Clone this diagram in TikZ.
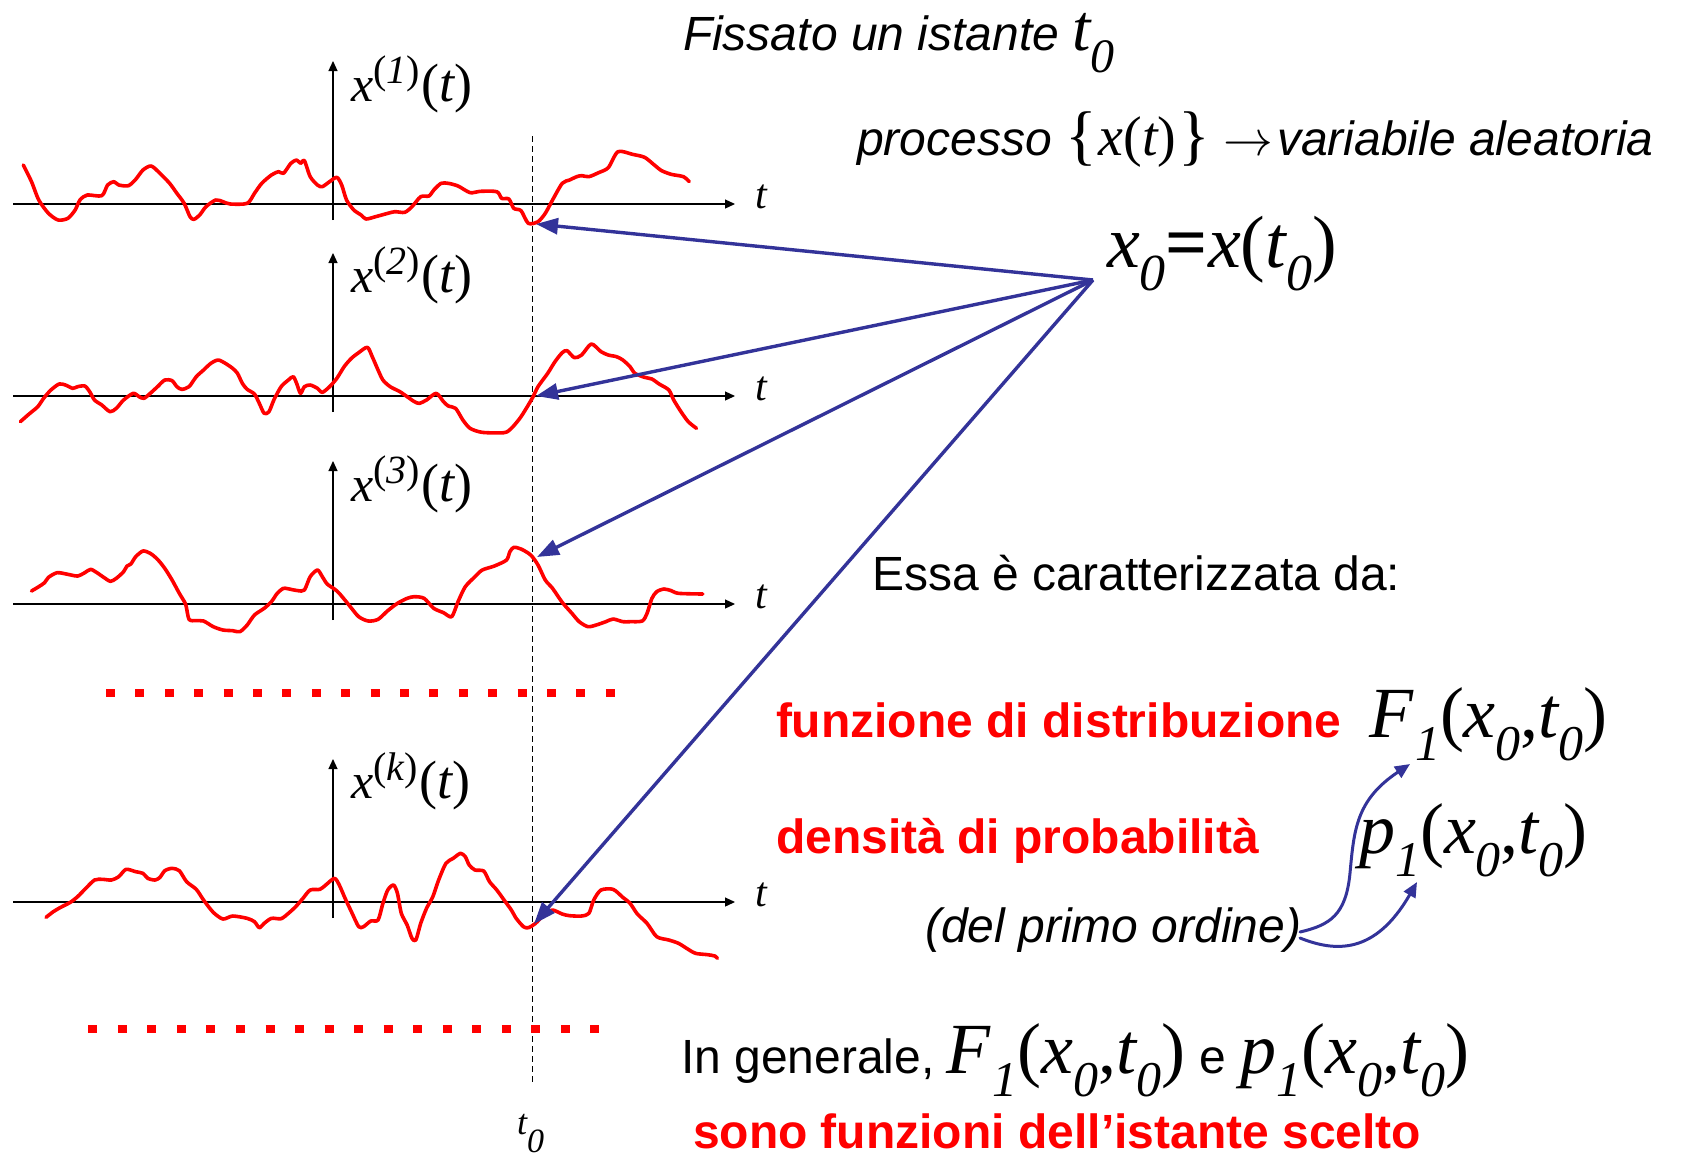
\documentclass[tikz,border=0pt]{standalone}
\usepackage{fontspec}
\setmainfont{Liberation Sans}
\newfontfamily\tms{Liberation Serif}
\usetikzlibrary{arrows.meta}
\definecolor{arrblue}{RGB}{51,51,153}
\definecolor{pured}{RGB}{255,0,0}
\newcommand\lowered[3]{{\fontsize{#1}{#1}\selectfont\raisebox{-#2}{#3}}}
\newcommand\raised[3]{{\fontsize{#1}{#1}\selectfont\raisebox{#2}{#3}}}
\newcommand\Fexpr{{\tms\fontsize{36pt}{36pt}\selectfont\itshape F\kern1pt\lowered{25pt}{11.5pt}{1}\upshape(\itshape x\lowered{25pt}{11.5pt}{0}\upshape,\itshape t\lowered{25pt}{11.5pt}{0}\upshape)}}
\newcommand\pexpr{{\tms\fontsize{36pt}{36pt}\selectfont\itshape p\lowered{25pt}{11.5pt}{1}\upshape(\itshape x\lowered{25pt}{11.5pt}{0}\upshape,\itshape t\lowered{25pt}{11.5pt}{0}\upshape)}}
\newcommand\xlab[1]{{\tms\fontsize{25pt}{25pt}\selectfont\itshape x\raised{20pt}{9pt}{\upshape(\itshape #1\upshape)}\kern1pt\fontsize{27pt}{27pt}\selectfont\upshape(\itshape t\upshape)}}
\tikzset{
  txt/.style={anchor=base west, inner sep=0pt, outer sep=0pt},
  sans/.style={font=\fontsize{24pt}{28pt}\selectfont},
  redbold/.style={text=pured, font=\fontsize{24pt}{28pt}\selectfont\bfseries},
  axisline/.style={line width=0.6pt, -{Triangle[length=5pt,width=4.5pt]}},
  tlab/.style={anchor=base west, inner sep=0pt, font=\tms\itshape\fontsize{21pt}{21pt}\selectfont},
  curve/.style={pured, line width=1.8pt, line join=round, line cap=round},
  bluearr/.style={draw=arrblue, line width=1.7pt, -{Triangle[length=11pt,width=8pt]}},
  smallarr/.style={draw=arrblue, line width=1.5pt, line cap=round, -{Triangle[length=7.5pt,width=6.5pt]}},
  reddots/.style={pured, line width=4pt},
}
\begin{document}
\begin{tikzpicture}[x=0.5pt,y=-0.5pt]
\useasboundingbox (0,0) rectangle (1689,1157);

% dashed t0 line
\coordinate (dtop) at (532,136);
\coordinate (dbot) at (532,1085);
\draw[line width=0.5pt, dash pattern=on 3pt off 2pt] (dtop) -- (dbot);

% axes
\foreach \n/\ay in {1/204, 2/396, 3/604, 4/902}{
  \draw[axisline] (13,\ay) -- (735,\ay);
  \draw[axisline] (333,\ay+16) -- (333,\ay-143);
  \node[tlab] (t\n) at (755,\ay+4) {t};
}
\node[txt] (lab1) at (351,101) {\xlab{1}};
\node[txt] (lab2) at (351,292) {\xlab{2}};
\node[txt] (lab3) at (351,501) {\xlab{3}};
\node[txt] (lab4) at (351,798) {\xlab{k}};

% curve 1
\begin{scope}[yshift=-20pt, x=0.242347pt, y=-0.166667pt]
\draw[curve] plot[smooth, tension=0.45] coordinates {(48,375) (65,425) (80,480) (100,520) (120,540) (140,535) (155,510) (165,480) (180,465) (210,467) (222,435) (235,425) (245,435) (265,437) (280,418) (295,390) (312,378) (330,400) (350,430) (365,460) (380,490) (392,530) (400,538) (412,525) (425,500) (445,480) (460,485) (475,492) (510,490) (525,460) (540,430) (560,405) (575,395) (585,400) (600,370) (612,360) (620,370) (628,362) (640,410) (655,435) (665,440) (680,425) (695,412) (705,435) (715,480) (730,510) (745,525) (755,537) (775,530) (800,520) (815,515) (835,517) (850,500) (868,470) (885,468) (895,450) (910,430) (925,430) (945,438) (970,458) (990,454) (1025,455) (1035,475) (1050,477) (1060,505) (1075,512) (1090,550) (1110,545) (1125,520) (1140,480) (1160,430) (1175,420) (1190,410) (1200,407) (1215,410) (1235,398) (1255,383) (1275,335) (1305,343) (1330,352) (1350,375) (1365,392) (1385,403) (1410,410) (1422,425)};
\end{scope}
% curve 2
\begin{scope}[yshift=-115pt, x=0.242347pt, y=-0.166667pt]
\draw[curve] plot[smooth, tension=0.45] coordinates {(42,575) (60,552) (78,530) (90,505) (105,480) (122,462) (135,465) (150,475) (160,470) (175,468) (185,485) (195,510) (210,525) (227,545) (240,535) (255,510) (275,490) (287,500) (297,505) (310,490) (325,470) (340,450) (355,452) (365,470) (375,478) (390,470) (405,440) (420,420) (435,400) (450,390) (465,400) (480,415) (490,430) (500,460) (510,478) (525,492) (535,520) (545,550) (555,545) (565,510) (580,470) (595,450) (605,440) (612,460) (620,490) (628,470) (640,465) (655,475) (665,487) (680,470) (695,445) (710,410) (725,385) (740,368) (758,352) (768,380) (780,420) (790,450) (805,470) (825,485) (840,500) (855,515) (865,520) (880,510) (900,490) (915,515) (925,528) (940,535) (955,570) (970,595) (995,607) (1040,608) (1055,595) (1075,560) (1098,505) (1110,470) (1130,430) (1145,395) (1160,368) (1170,362) (1185,383) (1200,375) (1220,342) (1240,365) (1255,375) (1272,380) (1285,390) (1300,410) (1310,430) (1330,442) (1345,447) (1360,462) (1380,480) (1390,510) (1405,545) (1420,575) (1437,595)};
\end{scope}
% curve 3
\begin{scope}[yshift=-220pt, x=0.242347pt, y=-0.166667pt]
\draw[curve] plot[smooth, tension=0.45] coordinates {(65,453) (80,440) (92,428) (100,412) (118,398) (140,403) (160,408) (175,398) (187,388) (200,398) (215,413) (228,424) (240,415) (255,395) (262,378) (270,372) (280,350) (295,333) (310,340) (325,358) (340,385) (355,420) (370,460) (383,493) (390,538) (405,542) (420,543) (440,560) (460,570) (480,572) (495,575) (510,555) (525,525) (545,505) (560,485) (572,460) (585,445) (600,448) (615,452) (628,450) (640,410) (655,390) (665,410) (675,432) (690,447) (700,460) (720,495) (740,530) (760,543) (780,538) (800,512) (820,490) (840,475) (855,470) (875,475) (895,505) (915,518) (932,530) (945,485) (960,440) (980,410) (995,390) (1020,378) (1045,360) (1052,335) (1060,322) (1075,327) (1095,345) (1110,375) (1125,420) (1140,445) (1160,487) (1180,520) (1195,545) (1213,560) (1230,555) (1250,545) (1265,537) (1285,545) (1300,545) (1325,543) (1335,520) (1345,475) (1355,455) (1370,447) (1385,452) (1400,460) (1450,462)};
\end{scope}
% curve k
\begin{scope}[yshift=-330pt, x=0.242347pt, y=-0.166667pt]
\draw[curve] plot[smooth, tension=0.45] coordinates {(95,772) (110,755) (125,742) (145,727) (160,710) (175,688) (195,660) (212,658) (230,660) (245,650) (260,628) (280,635) (295,640) (305,655) (320,660) (330,652) (340,632) (355,625) (370,632) (385,665) (405,688) (420,720) (440,757) (460,777) (480,768) (510,775) (525,785) (535,803) (545,790) (560,775) (580,776) (595,760) (610,740) (625,715) (640,690) (660,688) (672,675) (690,655) (700,675) (712,715) (725,755) (740,800) (750,800) (765,783) (780,780) (790,730) (800,690) (812,675) (820,700) (828,760) (840,795) (850,835) (858,840) (868,790) (880,745) (893,710) (905,660) (920,610) (935,595) (950,580) (960,590) (968,615) (980,630) (998,633) (1010,665) (1025,690) (1040,720) (1055,750) (1065,775) (1080,800) (1090,803) (1105,790) (1125,760) (1140,750) (1160,762) (1175,767) (1200,768) (1215,760) (1225,720) (1240,690) (1265,688) (1285,712) (1300,730) (1315,762) (1335,790) (1355,830) (1380,840) (1400,850) (1420,868) (1435,880) (1460,884) (1475,888) (1480,895)};
\end{scope}

% red dotted rows
\draw[reddots, dash pattern=on 4.5pt off 10.2pt] (106,692.5) -- (615,692.5);
\draw[reddots, dash pattern=on 4.5pt off 10.27pt] (88.3,1029) -- (600,1029);

% t0 label
\node[txt] (tzero) at (517,1134) {\tms\itshape\fontsize{18pt}{18pt}\selectfont t\lowered{17pt}{9pt}{0}};

% texts
\node[txt, font=\fontsize{24pt}{28pt}\selectfont\itshape] (fiss) at (683,50) {Fissato un istante \tms\fontsize{33pt}{33pt}\selectfont t\lowered{24pt}{11pt}{0}};
\node[txt, font=\fontsize{24pt}{28pt}\selectfont\itshape] (proc) at (857,155) {processo {\tms\upshape\fontsize{33pt}{33pt}\selectfont\raisebox{-1pt}{\{}\kern1pt\fontsize{28pt}{28pt}\selectfont\itshape x\upshape(\itshape t\upshape)\kern1pt\fontsize{33pt}{33pt}\selectfont\raisebox{-1pt}{\}}}\ {\fontsize{24pt}{24pt}\selectfont$\rightarrow$}\kern2pt variabile aleatoria};
\node[txt] (xz) at (1107,267) {\tms\fontsize{37pt}{37pt}\selectfont\itshape x\lowered{26pt}{11.5pt}{0}\upshape\bfseries=\mdseries\itshape x\upshape(\itshape t\lowered{26pt}{11.5pt}{0}\upshape)};
\node[txt, sans] (essa) at (872,590) {Essa è caratterizzata da:};
\node[txt, redbold] (funz) at (776,737) {funzione di distribuzione};
\node[txt] (Fone) at (1369,737) {\Fexpr};
\node[txt, redbold] (dens) at (776,853) {densità di probabilità};
\node[txt] (pone) at (1359,853) {\pexpr};
\node[txt, font=\fontsize{24pt}{28pt}\selectfont\itshape] (dpo) at (925,942) {(del primo ordine)};
\node[txt, sans] (gen) at (681,1073) {In generale,\kern6pt\Fexpr\kern7pt e\kern7pt\pexpr};
\node[txt, redbold] (sono) at (693,1148) {sono funzioni dell’istante scelto};

% blue arrows
\coordinate (src) at (1093,280);
\coordinate (tg1) at (536,224);
\coordinate (tg2) at (536,396);
\coordinate (tg3) at (537,557);
\coordinate (tg4) at (534,924);
\foreach \k in {1,2,3,4}{\draw[bluearr] (src) -- (tg\k);}

\coordinate (sA) at (1300,932);
\coordinate (sB) at (1300,938);
\coordinate (tF) at (1410,764);
\coordinate (tp) at (1417,882);
\draw[smallarr] (sA) .. controls (1330,925) and (1346,915) .. (1350,873) .. controls (1354,830) and (1356,800) .. (tF);
\draw[smallarr] (sB) .. controls (1335,952) and (1375,955) .. (tp);
\end{tikzpicture}
\end{document}
